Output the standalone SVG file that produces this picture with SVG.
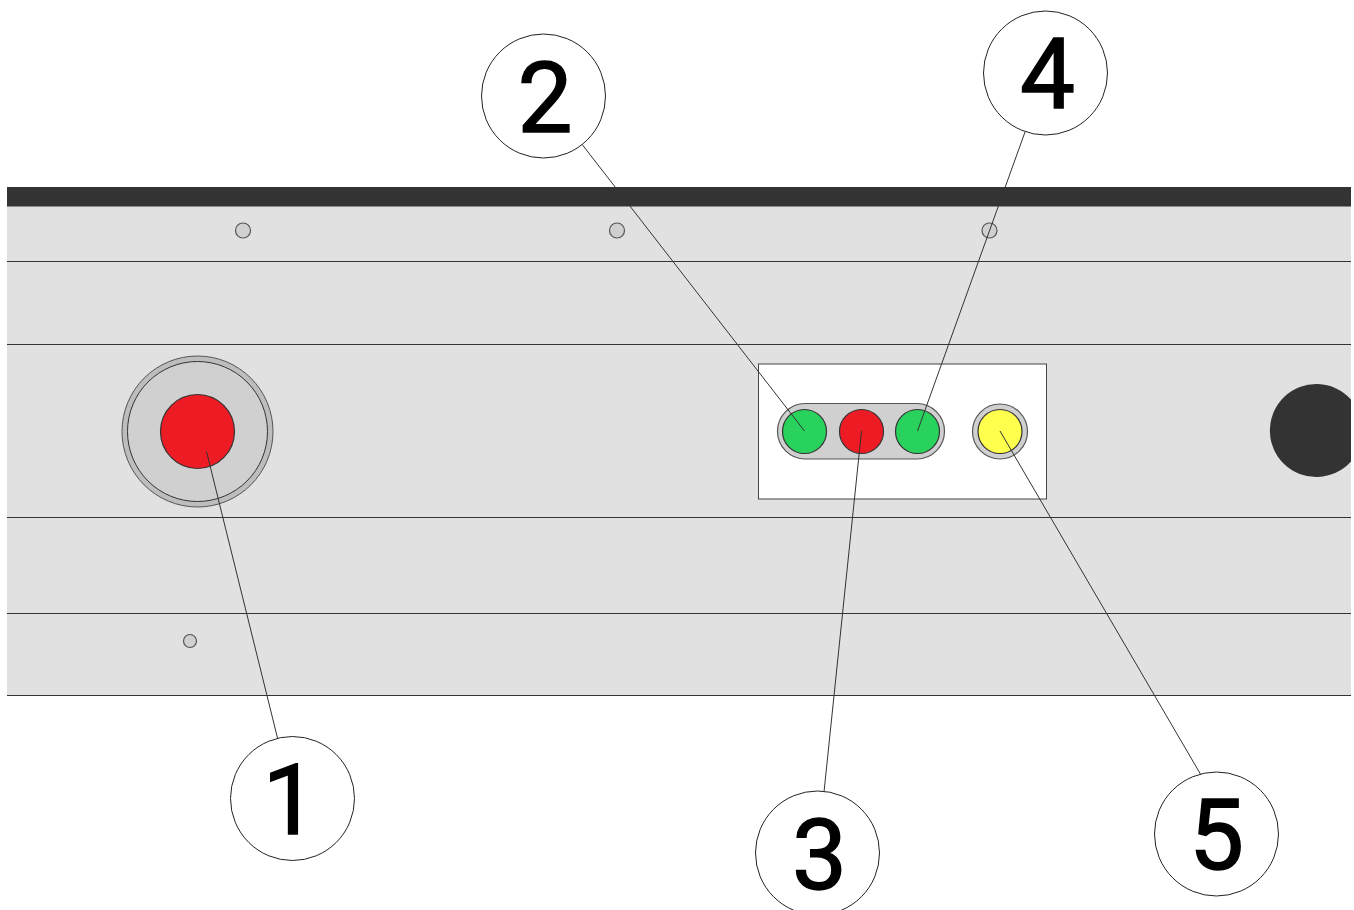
<svg xmlns="http://www.w3.org/2000/svg" width="1354" height="910" viewBox="0 0 1354 910">
<style>
.ln{stroke:#333;stroke-width:1;fill:none}
.c{fill:#fff;stroke:#222;stroke-width:1}
.n{font-family:Roboto,"Liberation Sans",sans-serif;font-size:98px;fill:#000;text-anchor:middle;stroke:#000;stroke-width:1.4}
.sc{fill:#d0d0d0;stroke:#555;stroke-width:1.2}
.lamp{stroke:#333;stroke-width:1.2}
</style>
<rect width="1354" height="910" fill="#fff"/>
<g id="panel">
<rect x="7" y="206" width="1344" height="489.500" fill="#e1e1e1"/>
<rect x="7" y="187" width="1344" height="19.500" fill="#333"/>
<path class="ln" d="M7 261.500H1351M7 344.500H1351M7 517.500H1351M7 613.500H1351M7 695.500H1351"/>
<circle class="sc" cx="243" cy="230.500" r="7.500"/>
<circle class="sc" cx="617" cy="230.500" r="7.500"/>
<circle class="sc" cx="989.500" cy="230.500" r="7.500"/>
<circle class="sc" cx="190" cy="641" r="6.500"/>
<path d="M1351 399.500A46.500 46.500 0 1 0 1351 461.500Z" fill="#333"/>
</g>
<g id="button">
<circle cx="197.500" cy="431.500" r="75.500" fill="#bdbdbd" stroke="#555"/>
<circle cx="197.500" cy="431.500" r="70" fill="#d0d0d0" stroke="#333"/>
<circle class="lamp" cx="197.500" cy="431.500" r="37" fill="#ed1c24"/>
</g>
<g id="indicator-box">
<rect x="758.500" y="364" width="288" height="135" fill="#fff" stroke="#444"/>
<rect x="777.500" y="403.500" width="167" height="55.500" rx="27.750" fill="#d0d0d0" stroke="#555" stroke-width="1.200"/>
<circle class="lamp" cx="804.500" cy="431.500" r="22" fill="#29d25c"/>
<circle class="lamp" cx="861.500" cy="431.500" r="22" fill="#ed1c24"/>
<circle class="lamp" cx="917.500" cy="431.500" r="22" fill="#29d25c"/>
<circle cx="1000" cy="431.500" r="27.500" fill="#d0d0d0" stroke="#555" stroke-width="1.200"/>
<circle class="lamp" cx="1000" cy="431.500" r="22" fill="#ffff4d"/>
</g>
<g id="connectors">
<path class="ln" d="M206.500 451.500L278 740M804.500 431L581 143M861.500 431L824 792M917.500 431L1025 132M1000 431L1201 775"/>
</g>
<g id="callout-1"><circle class="c" cx="292.500" cy="798.500" r="62"/><text class="n" x="290" y="834">1</text></g>
<g id="callout-2"><circle class="c" cx="543.500" cy="96" r="62"/><text class="n" x="545" y="132">2</text></g>
<g id="callout-3"><circle class="c" cx="817.500" cy="853" r="62"/><text class="n" x="819.500" y="889">3</text></g>
<g id="callout-4"><circle class="c" cx="1045.500" cy="73" r="62"/><text class="n" x="1047.500" y="108">4</text></g>
<g id="callout-5"><circle class="c" cx="1216.500" cy="834" r="62"/><text class="n" x="1216.500" y="869">5</text></g>
</svg>
